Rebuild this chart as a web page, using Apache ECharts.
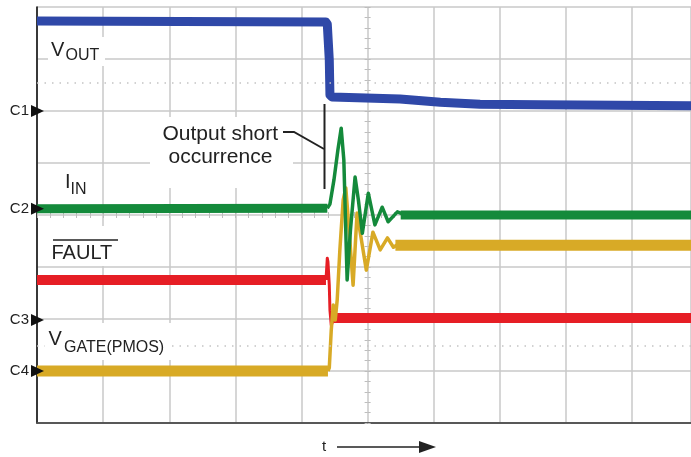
<!DOCTYPE html>
<html>
<head>
<meta charset="utf-8">
<script src="https://cdn.jsdelivr.net/npm/echarts@6/dist/echarts.min.js"></script>
<style>html,body{margin:0;padding:0;background:#fff}#c{width:691px;height:457px}</style>
</head>
<body>
<div id="c"></div>
<script>
// Time axis in divisions (0..~9.9 visible), vertical in divisions (0..8)
const vOutTime = [0, 4.37, 4.39, 4.42, 4.43, 4.46, 5.49, 6.10, 6.70, 7.61, 9.89];
const vOutDiv  = [7.73, 7.71, 7.67, 6.98, 6.31, 6.27, 6.23, 6.17, 6.13, 6.12, 6.10];

const iInPreTime = [0, 4.39];
const iInPreDiv  = [4.12, 4.13];
const iInTrTime  = [4.39, 4.43, 4.49, 4.55, 4.60, 4.64, 4.69, 4.74, 4.81, 4.86, 4.92, 5.01, 5.11, 5.22, 5.31, 5.45, 5.57];
const iInTrDiv   = [4.13, 4.21, 4.67, 5.25, 5.67, 5.06, 2.75, 3.71, 4.73, 4.29, 3.65, 4.42, 3.81, 4.15, 3.87, 4.06, 4.00];
const iInPostTime = [5.50, 9.89];
const iInPostDiv  = [4.00, 4.00];

const vGatePreTime = [0, 4.40];
const vGatePreDiv  = [1.00, 1.00];
const vGateTrTime  = [4.40, 4.42, 4.45, 4.48, 4.51, 4.54, 4.58, 4.63, 4.67, 4.72, 4.78, 4.84, 4.98, 5.08, 5.19, 5.30, 5.39, 5.49];
const vGateTrDiv   = [1.00, 1.06, 1.79, 2.27, 1.98, 2.37, 3.33, 4.29, 4.52, 3.71, 2.65, 4.04, 2.94, 3.67, 3.33, 3.56, 3.38, 3.46];
const vGatePostTime = [5.42, 9.89];
const vGatePostDiv  = [3.42, 3.42];

const faultPreTime = [0, 4.37];
const faultPreDiv  = [2.75, 2.75];
const faultTrTime  = [4.37, 4.39, 4.40, 4.42, 4.43, 4.45, 4.48, 4.51];
const faultTrDiv   = [2.75, 3.17, 3.10, 2.65, 2.17, 1.88, 1.98, 2.02];
const faultPostTime = [4.47, 9.89];
const faultPostDiv  = [2.02, 2.02];

const channelLabels = ['C1', 'C2', 'C3', 'C4'];
const channelLevels = [6.0, 4.12, 1.98, 1.0];

const dottedRows = [6.54, 1.48];

const BLUE = '#2f48a8', GREEN = '#148a3b', RED = '#e61e25', YELLOW = '#d8aa26';

function pts(t, v) { return t.map((x, i) => [x, v[i]]); }

const chart = echarts.init(document.getElementById('c'), null, { renderer: 'canvas' });

const gridL = 37, gridT = 7, gridR = 0, gridB = 34;
const W = 691, H = 457;
const xMax = 9.89;
const plotW = W - gridL - gridR;
const plotH = H - gridT - gridB;

function lineSeries(t, v, color, width, z) {
  return {
    type: 'line', data: pts(t, v), showSymbol: false, symbol: 'none',
    lineStyle: { color: color, width: width, cap: 'butt', join: 'round' },
    z: z, silent: true, animation: false, clip: true
  };
}

const series = [
  lineSeries(vOutTime, vOutDiv, BLUE, 9, 3),
  lineSeries(faultPreTime, faultPreDiv, RED, 10, 3),
  lineSeries(faultTrTime, faultTrDiv, RED, 3, 3),
  lineSeries(faultPostTime, faultPostDiv, RED, 10, 3),
  lineSeries(vGatePreTime, vGatePreDiv, YELLOW, 11, 4),
  lineSeries(vGateTrTime, vGateTrDiv, YELLOW, 3.5, 4),
  lineSeries(vGatePostTime, vGatePostDiv, YELLOW, 11, 4),
  lineSeries(iInPreTime, iInPreDiv, GREEN, 9, 5),
  lineSeries(iInTrTime, iInTrDiv, GREEN, 3.5, 5),
  lineSeries(iInPostTime, iInPostDiv, GREEN, 9, 5),
  {
    type: 'line', data: [], silent: true,
    markLine: {
      silent: true, symbol: 'none', label: { show: false },
      lineStyle: { color: '#c4c4c4', width: 1.5, type: [1.5, 6] },
      data: dottedRows.map(v => ({ yAxis: v }))
    }
  }
];

const yToPx = v => gridT + plotH * (1 - v / 8);

const graphic = [];
// white label boxes
[[48, 37, 57, 29], [49, 226, 72, 40], [150, 117, 143, 71], [45, 323, 126, 37]].forEach(r => {
  graphic.push({ type: 'rect', shape: { x: r[0], y: r[1], width: r[2], height: r[3] }, style: { fill: '#fff' }, z: 20, silent: true });
});
const F = '"Liberation Sans", Arial, sans-serif';
function txt(s, x, y, size) {
  graphic.push({ type: 'text', x: x, y: y, z: 30, silent: true,
    style: { text: s, font: size + 'px ' + F, fill: '#222', align: 'left', verticalAlign: 'middle' } });
}
txt('V', 51, 50, 20); txt('OUT', 65.5, 56, 16);
txt('I', 65, 182, 20); txt('IN', 70.5, 189.5, 16);
txt('FAULT', 51.5, 253, 20);
graphic.push({ type: 'line', shape: { x1: 53, y1: 240, x2: 118, y2: 240 }, style: { stroke: '#222', lineWidth: 1.6 }, z: 30 });
txt('V', 48.5, 339, 20); txt('GATE(PMOS)', 64, 348, 16);
txt('Output short', 162.5, 134, 21);
txt('occurrence', 168.5, 157.5, 21);
// annotation lines
graphic.push({ type: 'polyline', shape: { points: [[283, 132], [294, 132], [324, 149]] }, style: { stroke: '#222', lineWidth: 2, fill: null }, z: 30 });
graphic.push({ type: 'line', shape: { x1: 324.5, y1: 104, x2: 324.5, y2: 189 }, style: { stroke: '#222', lineWidth: 2 }, z: 30 });
// channel markers
channelLabels.forEach((c, i) => {
  const y = yToPx(channelLevels[i]);
  graphic.push({ type: 'text', x: 29, y: y, z: 30, silent: true,
    style: { text: c, font: '15px ' + F, fill: '#222', align: 'right', verticalAlign: 'middle' } });
  graphic.push({ type: 'polygon', shape: { points: [[31, y - 6], [31, y + 6], [44, y]] }, style: { fill: '#111' }, z: 31 });
});
// time arrow
txt('t', 322, 447, 15);
graphic.push({ type: 'line', shape: { x1: 337, y1: 447, x2: 424, y2: 447 }, style: { stroke: '#222', lineWidth: 1.6 }, z: 30 });
graphic.push({ type: 'polygon', shape: { points: [[419, 441], [436, 447], [419, 453]] }, style: { fill: '#222' }, z: 30 });

const hidden = { show: false };
const splitStyle = { show: true, lineStyle: { color: '#c8c8c8', width: 1.5 } };

const option = {
  animation: false,
  backgroundColor: '#fff',
  grid: { left: gridL, right: gridR, top: gridT, bottom: gridB, containLabel: false },
  xAxis: [
    { type: 'value', min: 0, max: xMax, interval: 1, position: 'bottom',
      axisLine: { show: true, lineStyle: { color: '#3a3a3a', width: 1.5 } },
      axisTick: hidden, axisLabel: hidden, splitLine: splitStyle },
    { type: 'value', min: 0, max: xMax, interval: 1, position: 'top',
      axisLine: { show: true, lineStyle: { color: '#555', width: 1.5 } },
      axisTick: hidden, axisLabel: hidden, splitLine: hidden },
    { type: 'value', min: 0, max: xMax, interval: 0.2, position: 'bottom', offset: -(plotH / 2),
      axisLine: hidden, axisTick: { show: true, length: 3, inside: false, lineStyle: { color: '#bdbdbd', width: 1 } },
      axisLabel: hidden, splitLine: hidden },
    { type: 'value', min: 0, max: xMax, interval: 0.2, position: 'bottom', offset: -(plotH / 2),
      axisLine: hidden, axisTick: { show: true, length: 3, inside: true, lineStyle: { color: '#bdbdbd', width: 1 } },
      axisLabel: hidden, splitLine: hidden }
  ],
  yAxis: [
    { type: 'value', min: 0, max: 8, interval: 1, position: 'left',
      axisLine: { show: true, lineStyle: { color: '#111', width: 1.6 } },
      axisTick: hidden, axisLabel: hidden, splitLine: splitStyle },
    { type: 'value', min: 0, max: 8, interval: 0.2, position: 'left', offset: -(plotW * 5 / xMax),
      axisLine: hidden, axisTick: { show: true, length: 3, inside: false, lineStyle: { color: '#bdbdbd', width: 1 } },
      axisLabel: hidden, splitLine: hidden },
    { type: 'value', min: 0, max: 8, interval: 0.2, position: 'left', offset: -(plotW * 5 / xMax),
      axisLine: hidden, axisTick: { show: true, length: 3, inside: true, lineStyle: { color: '#bdbdbd', width: 1 } },
      axisLabel: hidden, splitLine: hidden }
  ],
  series: series,
  graphic: graphic
};
chart.setOption(option);
</script>
</body>
</html>
